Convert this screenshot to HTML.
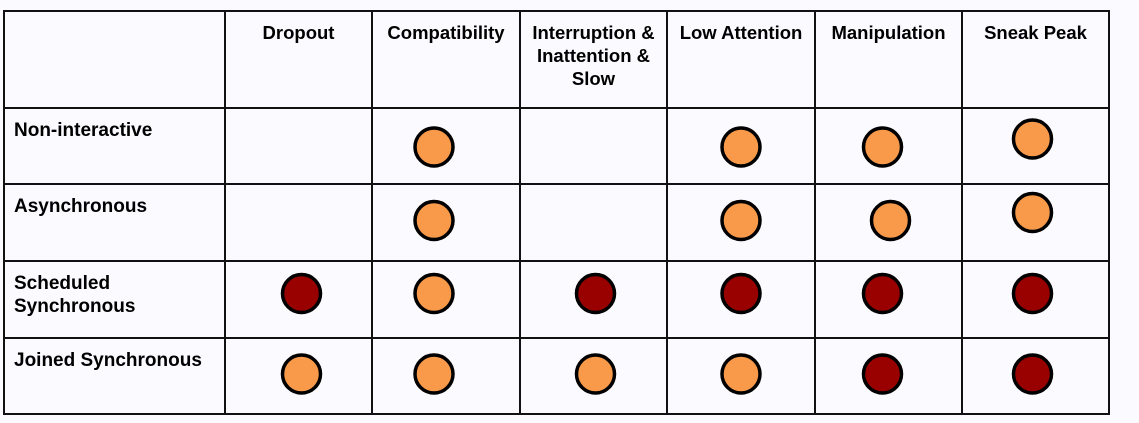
<!DOCTYPE html>
<html><head><meta charset="utf-8"><style>
html,body{margin:0;padding:0;background:#fafaff;}
svg{display:block;font-family:"Liberation Sans",sans-serif;}
</style></head><body>
<svg id="chart" width="1139" height="423" viewBox="0 0 1139 423">
<rect x="0" y="0" width="1139" height="423" fill="#fafaff"/>
<g id="grid"></g>
<g id="labels"></g>
<g id="marks"></g>
</svg>
<script>
const columns = ["Dropout","Compatibility","Interruption & Inattention & Slow","Low Attention","Manipulation","Sneak Peak"];
const rows = ["Non-interactive","Asynchronous","Scheduled Synchronous","Joined Synchronous"];
// 0 = none, 1 = orange, 2 = dark red
const rowNonInteractive = [0,1,0,1,1,1];
const rowAsynchronous = [0,1,0,1,1,1];
const rowScheduled = [2,1,2,2,2,2];
const rowJoined = [1,1,1,1,2,2];
const values = [rowNonInteractive,rowAsynchronous,rowScheduled,rowJoined];

const NS="http://www.w3.org/2000/svg";
const colX=[4,225,372,520,667,815,962,1109];
const rowY=[11,108,184,261,338,414];
const colNudge=[3,-12,2,0,-6,-3];
const rowNudge=[0,-3,-7,-3];
const colorOf={1:"#f89a4a",2:"#990000"};
function mk(tag,attrs,parent){const e=document.createElementNS(NS,tag);for(const k in attrs)e.setAttribute(k,attrs[k]);parent.appendChild(e);return e;}
const grid=document.getElementById('grid'),labels=document.getElementById('labels'),marks=document.getElementById('marks');
colX.forEach((x,i)=>{const l=mk('line',{x1:x,y1:rowY[0],x2:x,y2:rowY[rowY.length-1],stroke:'#111','stroke-width':2},grid);

});
rowY.forEach((y,i)=>{const l=mk('line',{x1:colX[0]-1,y1:y,x2:colX[colX.length-1]+1,y2:y,stroke:'#111','stroke-width':2},grid);

});
const headerLines=[["Dropout"],["Compatibility"],["Interruption &","Inattention &","Slow"],["Low Attention"],["Manipulation"],["Sneak Peak"]];
columns.forEach((c,i)=>{const cx=(colX[i+1]+colX[i+2])/2;
const t=mk('text',{x:cx,y:39,'text-anchor':'middle','font-size':18.5,'font-weight':'bold',fill:'#000'},labels);


headerLines[i].forEach((ln,j)=>{const s=mk('tspan',{x:cx,dy:j?23:0},t);s.textContent=ln;});});
const rowLines=[["Non-interactive"],["Asynchronous"],["Scheduled","Synchronous"],["Joined Synchronous"]];
rows.forEach((r,i)=>{const t=mk('text',{x:14,y:rowY[i+1]+28,'font-size':19,'font-weight':'bold',fill:'#000'},labels);


rowLines[i].forEach((ln,j)=>{const s=mk('tspan',{x:14,dy:j?23:0},t);s.textContent=ln;});});
values.forEach((rv,r)=>{rv.forEach((v,c)=>{if(!v)return;
let cx=(colX[c+1]+colX[c+2])/2+colNudge[c], cy=(rowY[r+1]+rowY[r+2])/2+1+rowNudge[r];
if(c===5&&r<2)cy-=8;
if(c===4&&r===1)cx+=8;
const ci=mk('circle',{cx:cx,cy:cy,r:19,fill:colorOf[v],stroke:'#000','stroke-width':3.5},marks);

});});
</script>
</body></html>
